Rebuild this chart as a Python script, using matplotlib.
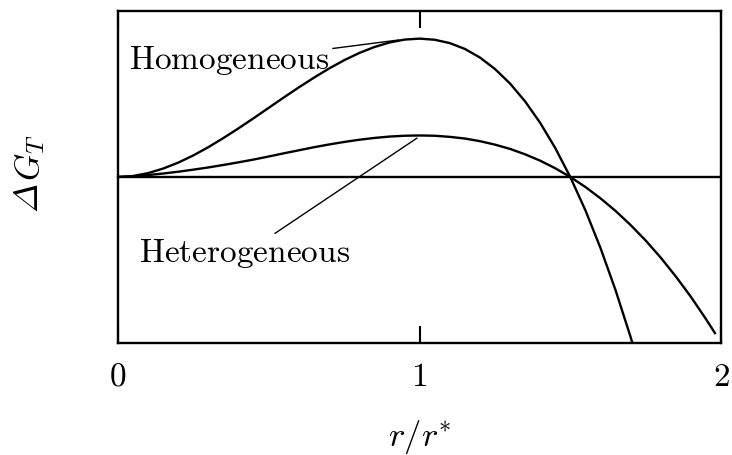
# energia libre de nucleacion: homogenea vs heterogenea

import os
import numpy as np
import matplotlib
matplotlib.use('Agg')
import matplotlib.pyplot as plt
from matplotlib.font_manager import FontProperties

plt.rcParams['mathtext.fontset'] = 'cm'

# radio reducido r/r*
r_homo = [0.0, 0.05, 0.10, 0.15, 0.20, 0.25, 0.30, 0.35, 0.40, 0.45, 0.50, 0.55,
          0.60, 0.65, 0.70, 0.75, 0.80, 0.85, 0.90, 0.95, 1.00, 1.05, 1.10, 1.15,
          1.20, 1.25, 1.30, 1.35, 1.40, 1.45, 1.50, 1.55, 1.60, 1.65, 1.70, 1.75]
dG_homo = [0.0, 0.007, 0.028, 0.061, 0.104, 0.156, 0.216, 0.282, 0.352, 0.425, 0.5, 0.575,
           0.648, 0.718, 0.784, 0.844, 0.896, 0.939, 0.972, 0.993, 1.0, 0.992, 0.968, 0.926,
           0.864, 0.781, 0.676, 0.547, 0.392, 0.210, 0.0, -0.240, -0.512, -0.817, -1.156, -1.531]

r_het = [0.0, 0.05, 0.10, 0.15, 0.20, 0.25, 0.30, 0.35, 0.40, 0.45, 0.50, 0.55,
         0.60, 0.65, 0.70, 0.75, 0.80, 0.85, 0.90, 0.95, 1.00, 1.05, 1.10, 1.15,
         1.20, 1.25, 1.30, 1.35, 1.40, 1.45, 1.50, 1.55, 1.60, 1.65, 1.70, 1.75,
         1.80, 1.85, 1.90, 1.95, 1.98]
dG_het = [0.0, 0.005, 0.014, 0.025, 0.038, 0.053, 0.069, 0.087, 0.106, 0.126, 0.148, 0.171,
          0.193, 0.215, 0.235, 0.253, 0.269, 0.282, 0.292, 0.298, 0.300, 0.298, 0.290, 0.278,
          0.259, 0.234, 0.203, 0.164, 0.118, 0.063, 0.0, -0.072, -0.154, -0.245, -0.347, -0.459,
          -0.583, -0.719, -0.866, -1.027, -1.129]

xticks = [0, 1, 2]
xticklabels = ['$0$', '$1$', '$2$']

fig = plt.figure(figsize=(7.32, 4.55), dpi=100)
ax = fig.add_axes([0.1612, 0.2462, 0.8238, 0.7297])

ax.plot(r_homo, dG_homo, color='black', lw=1.7)
ax.plot(r_het, dG_het, color='black', lw=1.7, clip_on=False)
ax.axhline(0, color='black', lw=1.7)

ax.set_xlim(0, 2)
ax.set_ylim(-1.2, 1.2)

for s in ax.spines.values():
    s.set_linewidth(1.7)

ax.set_xticks(xticks)
ax.set_xticklabels(xticklabels, fontsize=24)
ax.set_yticks([])
ax.tick_params(axis='x', direction='in', length=12, width=1.5, top=True, pad=12)

# etiquetas con linea hacia cada curva
ax.text(0.036, 0.78, r'$\mathrm{Homogeneous}$', fontsize=24, ha='left', va='baseline')
ax.plot([0.713, 0.93], [0.929, 0.99], color='black', lw=1.0)
ax.text(0.071, -0.612, r'$\mathrm{Heterogeneous}$', fontsize=24, ha='left', va='baseline')
ax.plot([0.521, 0.991], [-0.407, 0.28], color='black', lw=1.0)

# Delta en cursiva (cmmi10) y luego G_T
cmmi = FontProperties(fname=os.path.join(matplotlib.get_data_path(), 'fonts', 'ttf', 'cmmi10.ttf'),
                      size=25)
fig.text(28 / 732, 1 - 197 / 455, '\u00a2', fontproperties=cmmi,
         rotation=90, ha='center', va='center')
fig.text(30 / 732, 1 - 158 / 455, r'$G_T$', fontsize=25,
         rotation=90, ha='center', va='center')
fig.text(420 / 732, 1 - 437 / 455, r'$r/r^{*}$', fontsize=25, ha='center', va='center')

plt.savefig('out.png', dpi=100)
